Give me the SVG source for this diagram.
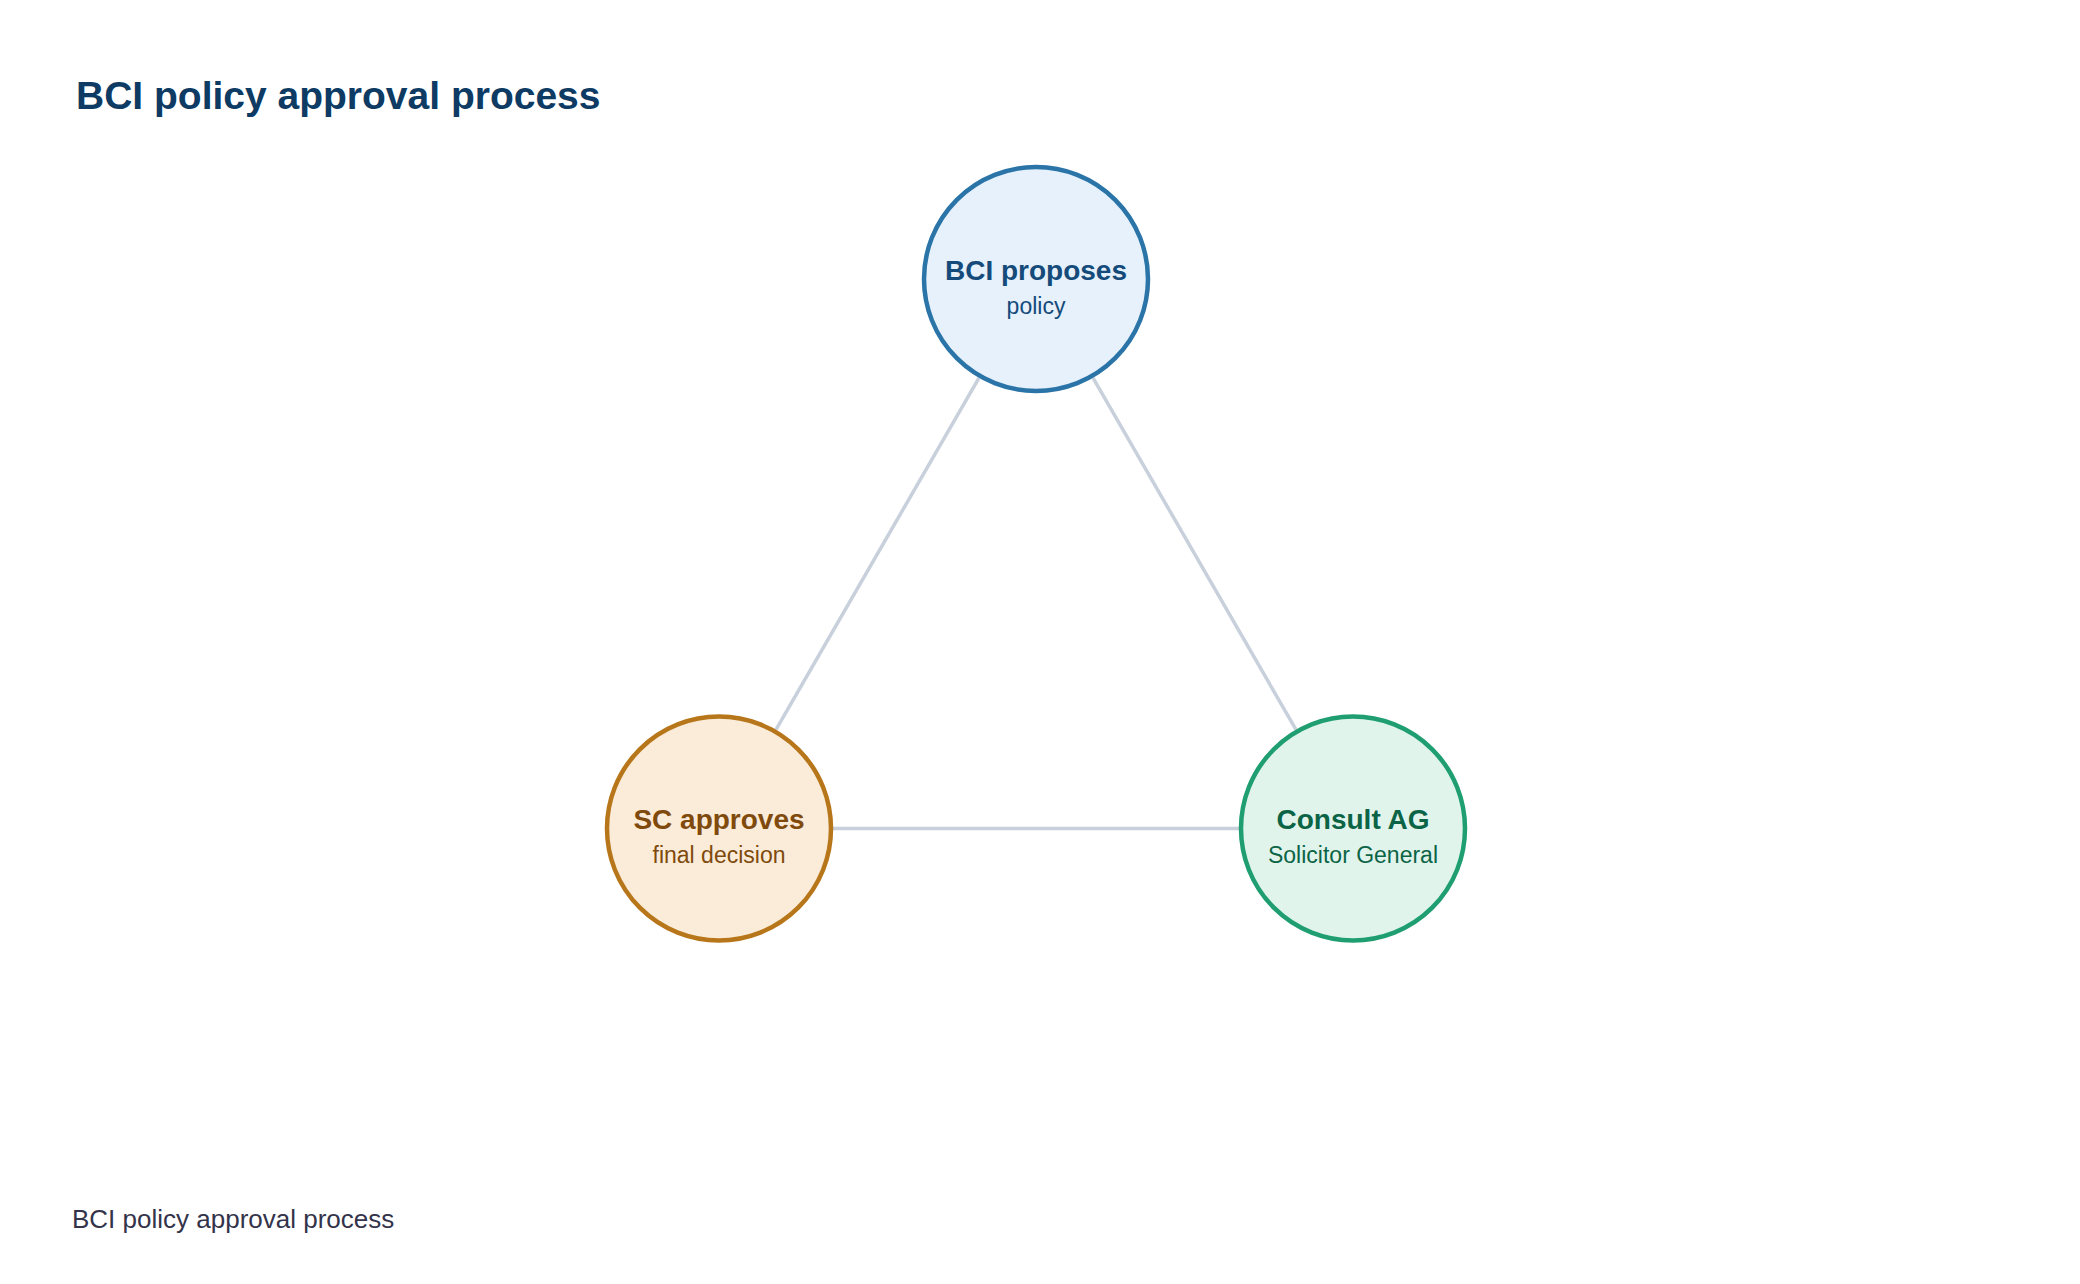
<svg xmlns="http://www.w3.org/2000/svg" width="2080" height="1284" viewBox="0 0 2080 1284">
  <style>
    .title { font-family: "Liberation Sans", Arial, sans-serif; font-weight: bold; font-size: 39px; fill: #0d3b64; }
    .footer { font-family: "Liberation Sans", Arial, sans-serif; font-size: 26px; fill: #33334a; }
    .lbl { font-family: "Liberation Sans", Arial, sans-serif; font-weight: bold; font-size: 28px; text-anchor: middle; }
    .sub { font-family: "Liberation Sans", Arial, sans-serif; font-size: 23px; text-anchor: middle; }
    .edge { stroke: #c8d0dc; stroke-width: 3.5; fill: none; }
    .node circle { stroke-width: 4.5; }
    #n-bci circle { fill: #e6f1fb; stroke: #2a74a8; }
    #n-bci text { fill: #154b7a; }
    #n-sc circle { fill: #faecd9; stroke: #b8761a; }
    #n-sc text { fill: #7f4a0c; }
    #n-ag circle { fill: #e0f4ec; stroke: #1f9e72; }
    #n-ag text { fill: #0b6446; }
  </style>
  <rect width="2080" height="1284" fill="#ffffff"/>
  <text class="title" x="76" y="109">BCI policy approval process</text>
  <g id="connectors">
    <line class="edge" x1="979" y1="377.8" x2="776" y2="729.7"/>
    <line class="edge" x1="1093" y1="377.8" x2="1296" y2="729.7"/>
    <line class="edge" x1="833" y1="828.5" x2="1239" y2="828.5"/>
  </g>
  <g id="n-bci" class="node">
    <circle cx="1036" cy="279" r="112"/>
    <text class="lbl" x="1036" y="280">BCI proposes</text>
    <text class="sub" x="1036" y="314">policy</text>
  </g>
  <g id="n-sc" class="node">
    <circle cx="719" cy="828.5" r="112"/>
    <text class="lbl" x="719" y="829">SC approves</text>
    <text class="sub" x="719" y="863">final decision</text>
  </g>
  <g id="n-ag" class="node">
    <circle cx="1353" cy="828.5" r="112"/>
    <text class="lbl" x="1353" y="829">Consult AG</text>
    <text class="sub" x="1353" y="863">Solicitor General</text>
  </g>
  <text class="footer" x="72" y="1228">BCI policy approval process</text>
</svg>
